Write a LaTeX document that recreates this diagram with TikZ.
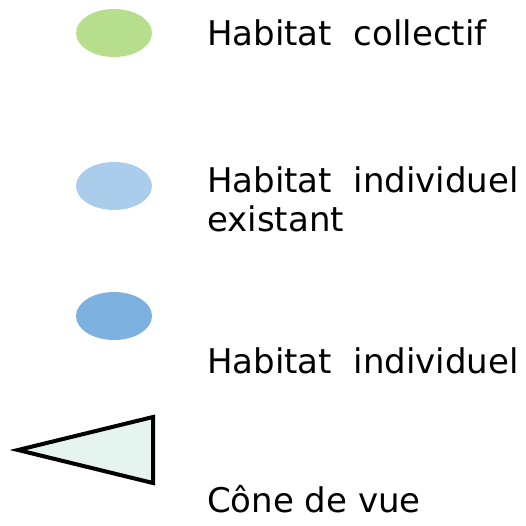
\documentclass[tikz,border=0pt]{standalone}
\usepackage{fontspec}
\setmainfont{DejaVu Sans}
\definecolor{vert}{RGB}{183,222,140}
\definecolor{bleuclair}{RGB}{170,205,236}
\definecolor{bleu}{RGB}{125,178,224}
\definecolor{menthe}{RGB}{230,244,240}
\tikzset{
  puce/.style={ellipse, minimum width=76pt, minimum height=48pt, inner sep=0pt},
  libelle/.style={anchor=base west, inner sep=0pt, align=left, font=\fontsize{34pt}{39pt}\selectfont},
}
\usetikzlibrary{shapes.geometric}
\begin{document}
\begin{tikzpicture}[x=1pt,y=-1pt]
\useasboundingbox (0,0) rectangle (525,526);
\node[puce, fill=vert] (e1) at (114,33) {};
\node[puce, fill=bleuclair] (e2) at (114,186) {};
\node[puce, fill=bleu] (e3) at (114,316) {};
\draw[line width=4pt, fill=menthe, line join=miter] (18,450) coordinate (tA) -- (153,417) coordinate (tB) -- (153,483) coordinate (tC) -- cycle;
\node[libelle] (t1) at (207,46) {Habitat\ \ collectif};
\node[libelle] (t2) at (207,232) {Habitat\ \ individuel\\existant};
\node[libelle] (t3) at (207,373) {Habitat\ \ individuel};
\node[libelle] (t4) at (207,512) {Cône de vue};
\end{tikzpicture}
\end{document}
